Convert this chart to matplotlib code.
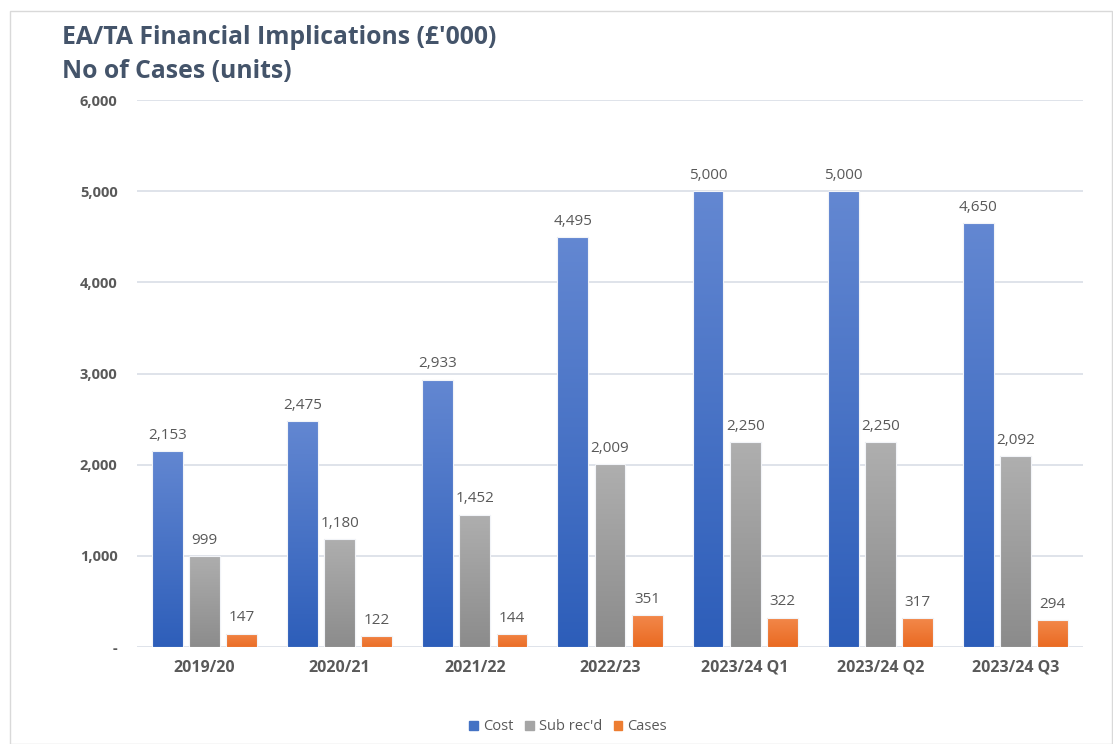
import numpy as np
import matplotlib
matplotlib.use("Agg")
import matplotlib.pyplot as plt
from matplotlib.colors import LinearSegmentedColormap
from matplotlib.patches import Rectangle
from matplotlib.ticker import FuncFormatter

categories = ["2019/20", "2020/21", "2021/22", "2022/23", "2023/24 Q1", "2023/24 Q2", "2023/24 Q3"]
cost = [2153, 2475, 2933, 4495, 5000, 5000, 4650]
sub_recd = [999, 1180, 1452, 2009, 2250, 2250, 2092]
cases = [147, 122, 144, 351, 322, 317, 294]
series_names = ["Cost", "Sub rec'd", "Cases"]

plt.rcParams['font.family'] = ['Open Sans', 'DejaVu Sans']

fig = plt.figure(figsize=(11.13, 7.44), dpi=100)
W, H = 1113, 744
ax = fig.add_axes([137 / W, 1 - 647 / H, (1083 - 137) / W, (647 - 100) / H])

grads = [("#6488D2", "#2C5DB9"), ("#B0B0B0", "#8A8A8A"), ("#F48D52", "#E8651A")]
legend_cols = ["#4472C4", "#A5A5A5", "#ED7D31"]
x = np.arange(len(categories))
width = 0.228
offsets = [-0.275, 0, 0.275]
label_color = "#595959"

ax.set_xlim(-0.5, len(categories) - 0.5)
ax.set_ylim(0, 6000)

for vals, off, (ctop, cbot), lc, name in zip([cost, sub_recd, cases], offsets, grads, legend_cols, series_names):
    bars = ax.bar(x + off, vals, width, color=cbot, edgecolor="#F2F4F8", lw=0.8, label=name, zorder=2)
    cmap = LinearSegmentedColormap.from_list("g", [cbot, ctop])
    for b, v in zip(bars, vals):
        x0, w, h = b.get_x(), b.get_width(), b.get_height()
        im = ax.imshow(np.linspace(0, 1, 256).reshape(-1, 1), cmap=cmap, origin="lower",
                       extent=[x0 - 0.02, x0 + w + 0.02, -60, h + 60], aspect="auto", zorder=2.5,
                       interpolation="bilinear")
        im.set_clip_path(b)
        ax.add_patch(Rectangle((x0, 0), w, h, fill=False, edgecolor="#F2F4F8", lw=0.8, zorder=3))
        ax.text(x0 + w / 2, h + 90, f"{v:,}", ha="center", va="bottom",
                fontsize=11, color=label_color, zorder=4)

ax.set_xlim(-0.5, len(categories) - 0.5)
ax.set_ylim(0, 6000)
ax.set_yticks(np.arange(0, 6001, 1000))
ax.yaxis.set_major_formatter(FuncFormatter(lambda v, p: "-" if v == 0 else f"{int(v):,}"))
ax.set_xticks(x)
ax.set_xticklabels(categories)
for lbl in ax.get_yticklabels():
    lbl.set_fontweight("bold")
    lbl.set_color(label_color)
    lbl.set_fontsize(10.5)
for lbl in ax.get_xticklabels():
    lbl.set_fontweight("bold")
    lbl.set_color(label_color)
    lbl.set_fontsize(11.5)
ax.tick_params(axis="both", length=0)
ax.tick_params(axis="x", pad=9)
ax.tick_params(axis="y", pad=14)
ax.grid(axis="y", color="#D9DEE6", lw=1.2, zorder=0)
ax.set_axisbelow(True)
for s in ax.spines.values():
    s.set_visible(False)

fig.text(62 / W, 1 - 37 / H, "EA/TA Financial Implications (£'000)", fontsize=17.8, fontweight="bold",
         color="#44546A", va="center", ha="left")
fig.text(62 / W, 1 - 72 / H, "No of Cases (units)", fontsize=17.8, fontweight="bold",
         color="#44546A", va="center", ha="left")

handles = [Rectangle((0, 0), 1, 1, color=c) for c in legend_cols]
leg = fig.legend(handles, series_names, loc="center", bbox_to_anchor=(568 / W, 1 - 727 / H), ncol=3,
                 frameon=False, fontsize=10.5, handlelength=0.6, handleheight=0.6,
                 handletextpad=0.35, columnspacing=0.8, borderpad=0.2)
for t in leg.get_texts():
    t.set_color(label_color)

fig.patches.append(Rectangle((10 / W, 0), 1 - 11 / W, 1 - 11 / H, transform=fig.transFigure,
                             fill=False, edgecolor="#D9D9D9", lw=1))

fig.savefig("out.png", dpi=100)
